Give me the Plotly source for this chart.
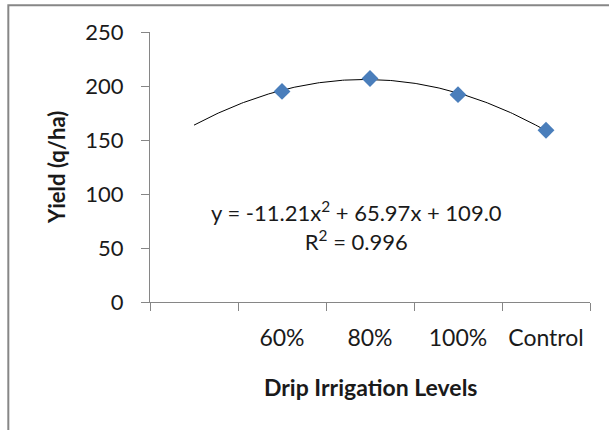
import plotly.graph_objects as go
import numpy as np

# Data
categories = ["", "60%", "80%", "100%", "Control"]
yield_values = [None, 195, 207, 192, 159]
trend_coeffs = [-11.21, 65.97, 109.0]  # y = a x^2 + b x + c
r_squared = 0.996
y_ticks = [0, 50, 100, 150, 200, 250]

x_pos = list(range(1, len(categories) + 1))
xt = np.linspace(1, len(categories), 200)
yt = trend_coeffs[0] * xt**2 + trend_coeffs[1] * xt + trend_coeffs[2]

FONT = "Lato"
TXT = "#1a1a1a"

fig = go.Figure()
fig.add_trace(go.Scatter(x=xt, y=yt, mode="lines",
                         line=dict(color="black", width=1),
                         hoverinfo="skip", showlegend=False))
fig.add_trace(go.Scatter(x=x_pos, y=yield_values, mode="markers",
                         marker=dict(symbol="diamond", size=13, color="#4a7ebb"),
                         showlegend=False))
# invisible trace for the label axis
fig.add_trace(go.Scatter(x=[x_pos[0]], y=[None], xaxis="x2", showlegend=False,
                         hoverinfo="skip"))

eq = (f"y = {trend_coeffs[0]:.2f}x<sup>2</sup> + {trend_coeffs[1]:.2f}x + {trend_coeffs[2]:.1f}"
      f"<br>R<sup>2</sup> = {r_squared:.3f}")

fig.update_layout(
    template="none",
    width=609, height=430,
    margin=dict(l=150, r=19, t=32, b=128, autoexpand=False),
    plot_bgcolor="white", paper_bgcolor="white",
    font=dict(family=FONT, color=TXT),
    xaxis=dict(range=[0.5, 5.5], tickvals=[0.5 + i for i in range(6)],
               showticklabels=False, ticks="outside", ticklen=8,
               tickcolor="#868686", showline=True, linecolor="#868686",
               showgrid=False, zeroline=False, automargin=False),
    xaxis2=dict(range=[0.5, 5.5], overlaying="x", anchor="y", side="bottom",
                tickvals=x_pos, ticktext=categories, ticks="outside",
                ticklen=15, tickcolor="rgba(0,0,0,0)", showline=False,
                showgrid=False, zeroline=False, automargin=False,
                tickfont=dict(family=FONT, size=23, color=TXT)),
    yaxis=dict(range=[0, 250], tickvals=y_ticks, ticks="outside", ticklen=8,
               tickcolor="#868686", showline=True, linecolor="#868686",
               showgrid=False, zeroline=False, ticklabelstandoff=13,
               automargin=False,
               tickfont=dict(family=FONT, size=22, color=TXT)),
    shapes=[dict(type="path", xref="paper", yref="paper",
                 path="M -0.322,-0.6 L -0.322,1.099 L 1.1,1.099",
                 line=dict(color="#878787", width=2))],
    annotations=[
        dict(text=eq, x=2.85, y=70, xref="x", yref="y", showarrow=False,
             xanchor="center", yanchor="middle",
             font=dict(family=FONT, size=22, color=TXT), align="center"),
        dict(text="<b>Drip Irrigation Levels</b>", xref="paper", yref="paper",
             x=0.5, y=(302 - 387) / 270, showarrow=False,
             xanchor="center", yanchor="middle",
             font=dict(family=FONT, size=23, color=TXT)),
        dict(text="<b>Yield (q/ha)</b>", xref="paper", yref="paper",
             x=(56 - 150) / 440, y=(302 - 168) / 270, showarrow=False,
             xanchor="center", yanchor="middle",
             textangle=-90, font=dict(family=FONT, size=22, color=TXT)),
    ],
)

fig.write_html("out.html",
               config={"displayModeBar": False},
               post_script="document.body.style.margin='0';")
